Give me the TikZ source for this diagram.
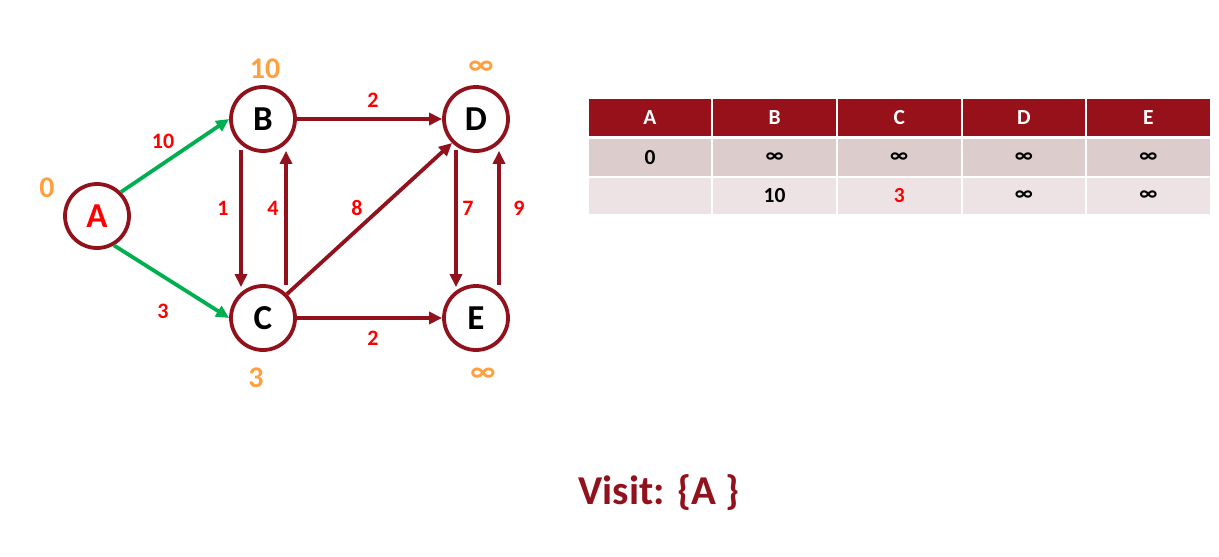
\documentclass[tikz,border=0pt]{standalone}
\usepackage{fontspec}
\setmainfont{Carlito}
\usetikzlibrary{arrows.meta}
\definecolor{dred}{RGB}{145,18,28}
\definecolor{hdr}{RGB}{150,17,26}
\definecolor{grn}{RGB}{0,176,80}
\definecolor{org}{RGB}{255,160,64}
\definecolor{rowa}{RGB}{220,204,204}
\definecolor{rowb}{RGB}{237,227,228}
\definecolor{lblred}{RGB}{255,0,0}
\begin{document}
\begin{tikzpicture}[x=1pt,y=-1pt,
  vertex/.style={circle,draw=dred,line width=3.8pt,fill=white,minimum size=64pt,inner sep=0pt,font=\fontsize{35}{35}\selectfont\bfseries},
  edge/.style={draw=dred,line width=3.8pt,-{Triangle[length=13pt,width=12pt]}},
  gedge/.style={edge,draw=grn},
  wlbl/.style={text=lblred,font=\fontsize{22}{22}\selectfont\bfseries},
  dist/.style={text=org,font=\fontsize{30}{30}\selectfont\bfseries},
  cell/.style={draw=white,line width=2pt,minimum width=124.6pt,minimum height=38.5pt,inner sep=0pt,font=\fontsize{21.5}{21.5}\selectfont\bfseries},
  hcell/.style={cell,fill=hdr,text=white},
  acell/.style={cell,fill=rowa},
  bcell/.style={cell,fill=rowb}]
\useasboundingbox (0,0) rectangle (1219,557);
% vertices
\node[vertex,text=lblred] (A) at (97,216) {A};
\node[vertex] (B) at (263,119) {B};
\node[vertex] (C) at (263,318) {C};
\node[vertex] (D) at (476,119) {D};
\node[vertex] (E) at (476,318) {E};
% distance labels
\node[dist] (dA) at (47,188) {0};
\node[dist] (dB) at (265,69) {10};
\node[dist] (dC) at (256,378) {3};
\node[dist] (dD) at (481,68) {∞};
\node[dist] (dE) at (483,375) {∞};
% edges
\draw[gedge] (A.45) -- (B.west);
\draw[gedge] (A.-60) -- (C.west);
\draw[edge] (B.east) -- (D.west);
\draw[edge] (C.east) -- (E.west);
\draw[edge] (C.45) -- (D.-135);
\draw[edge] ([xshift=-22pt,yshift=3pt]B.south) -- ([xshift=-22pt,yshift=-3pt]C.north);
\draw[edge] ([xshift=23pt,yshift=-1pt]C.north) -- ([xshift=23pt,yshift=2pt]B.south);
\draw[edge] ([xshift=-20pt,yshift=3pt]D.south) -- ([xshift=-20pt,yshift=-3pt]E.north);
\draw[edge] ([xshift=23pt,yshift=-1pt]E.north) -- ([xshift=23pt,yshift=2pt]D.south);
% edge labels
\node[wlbl] (lAB) at (163,141) {10};
\node[wlbl] (lAC) at (163,311) {3};
\node[wlbl] (lBD) at (373,100) {2};
\node[wlbl] (lCE) at (373,338) {2};
\node[wlbl] (lBC) at (223,208) {1};
\node[wlbl] (lCB) at (273,208) {4};
\node[wlbl] (lCD) at (357,208) {8};
\node[wlbl] (lDE) at (468,208) {7};
\node[wlbl] (lED) at (519,208) {9};
% table
\node[hcell] (hA) at (650,117.5) {A};
\node[hcell] (hB) at (774.6,117.5) {B};
\node[hcell] (hC) at (899.2,117.5) {C};
\node[hcell] (hD) at (1023.8,117.5) {D};
\node[hcell] (hE) at (1148.4,117.5) {E};
\node[acell] (r1A) at (650,157.5) {0};
\node[acell] (r1B) at (774.6,157.5) {∞};
\node[acell] (r1C) at (899.2,157.5) {∞};
\node[acell] (r1D) at (1023.8,157.5) {∞};
\node[acell] (r1E) at (1148.4,157.5) {∞};
\node[bcell] (r2A) at (650,196) {};
\node[bcell] (r2B) at (774.6,196) {10};
\node[bcell,text=lblred] (r2C) at (899.2,196) {3};
\node[bcell] (r2D) at (1023.8,196) {∞};
\node[bcell] (r2E) at (1148.4,196) {∞};
% visit
\node[text=dred,font=\fontsize{41}{41}\selectfont\bfseries] (visit) at (659,493) {Visit: \{A \}};
\end{tikzpicture}
\end{document}
